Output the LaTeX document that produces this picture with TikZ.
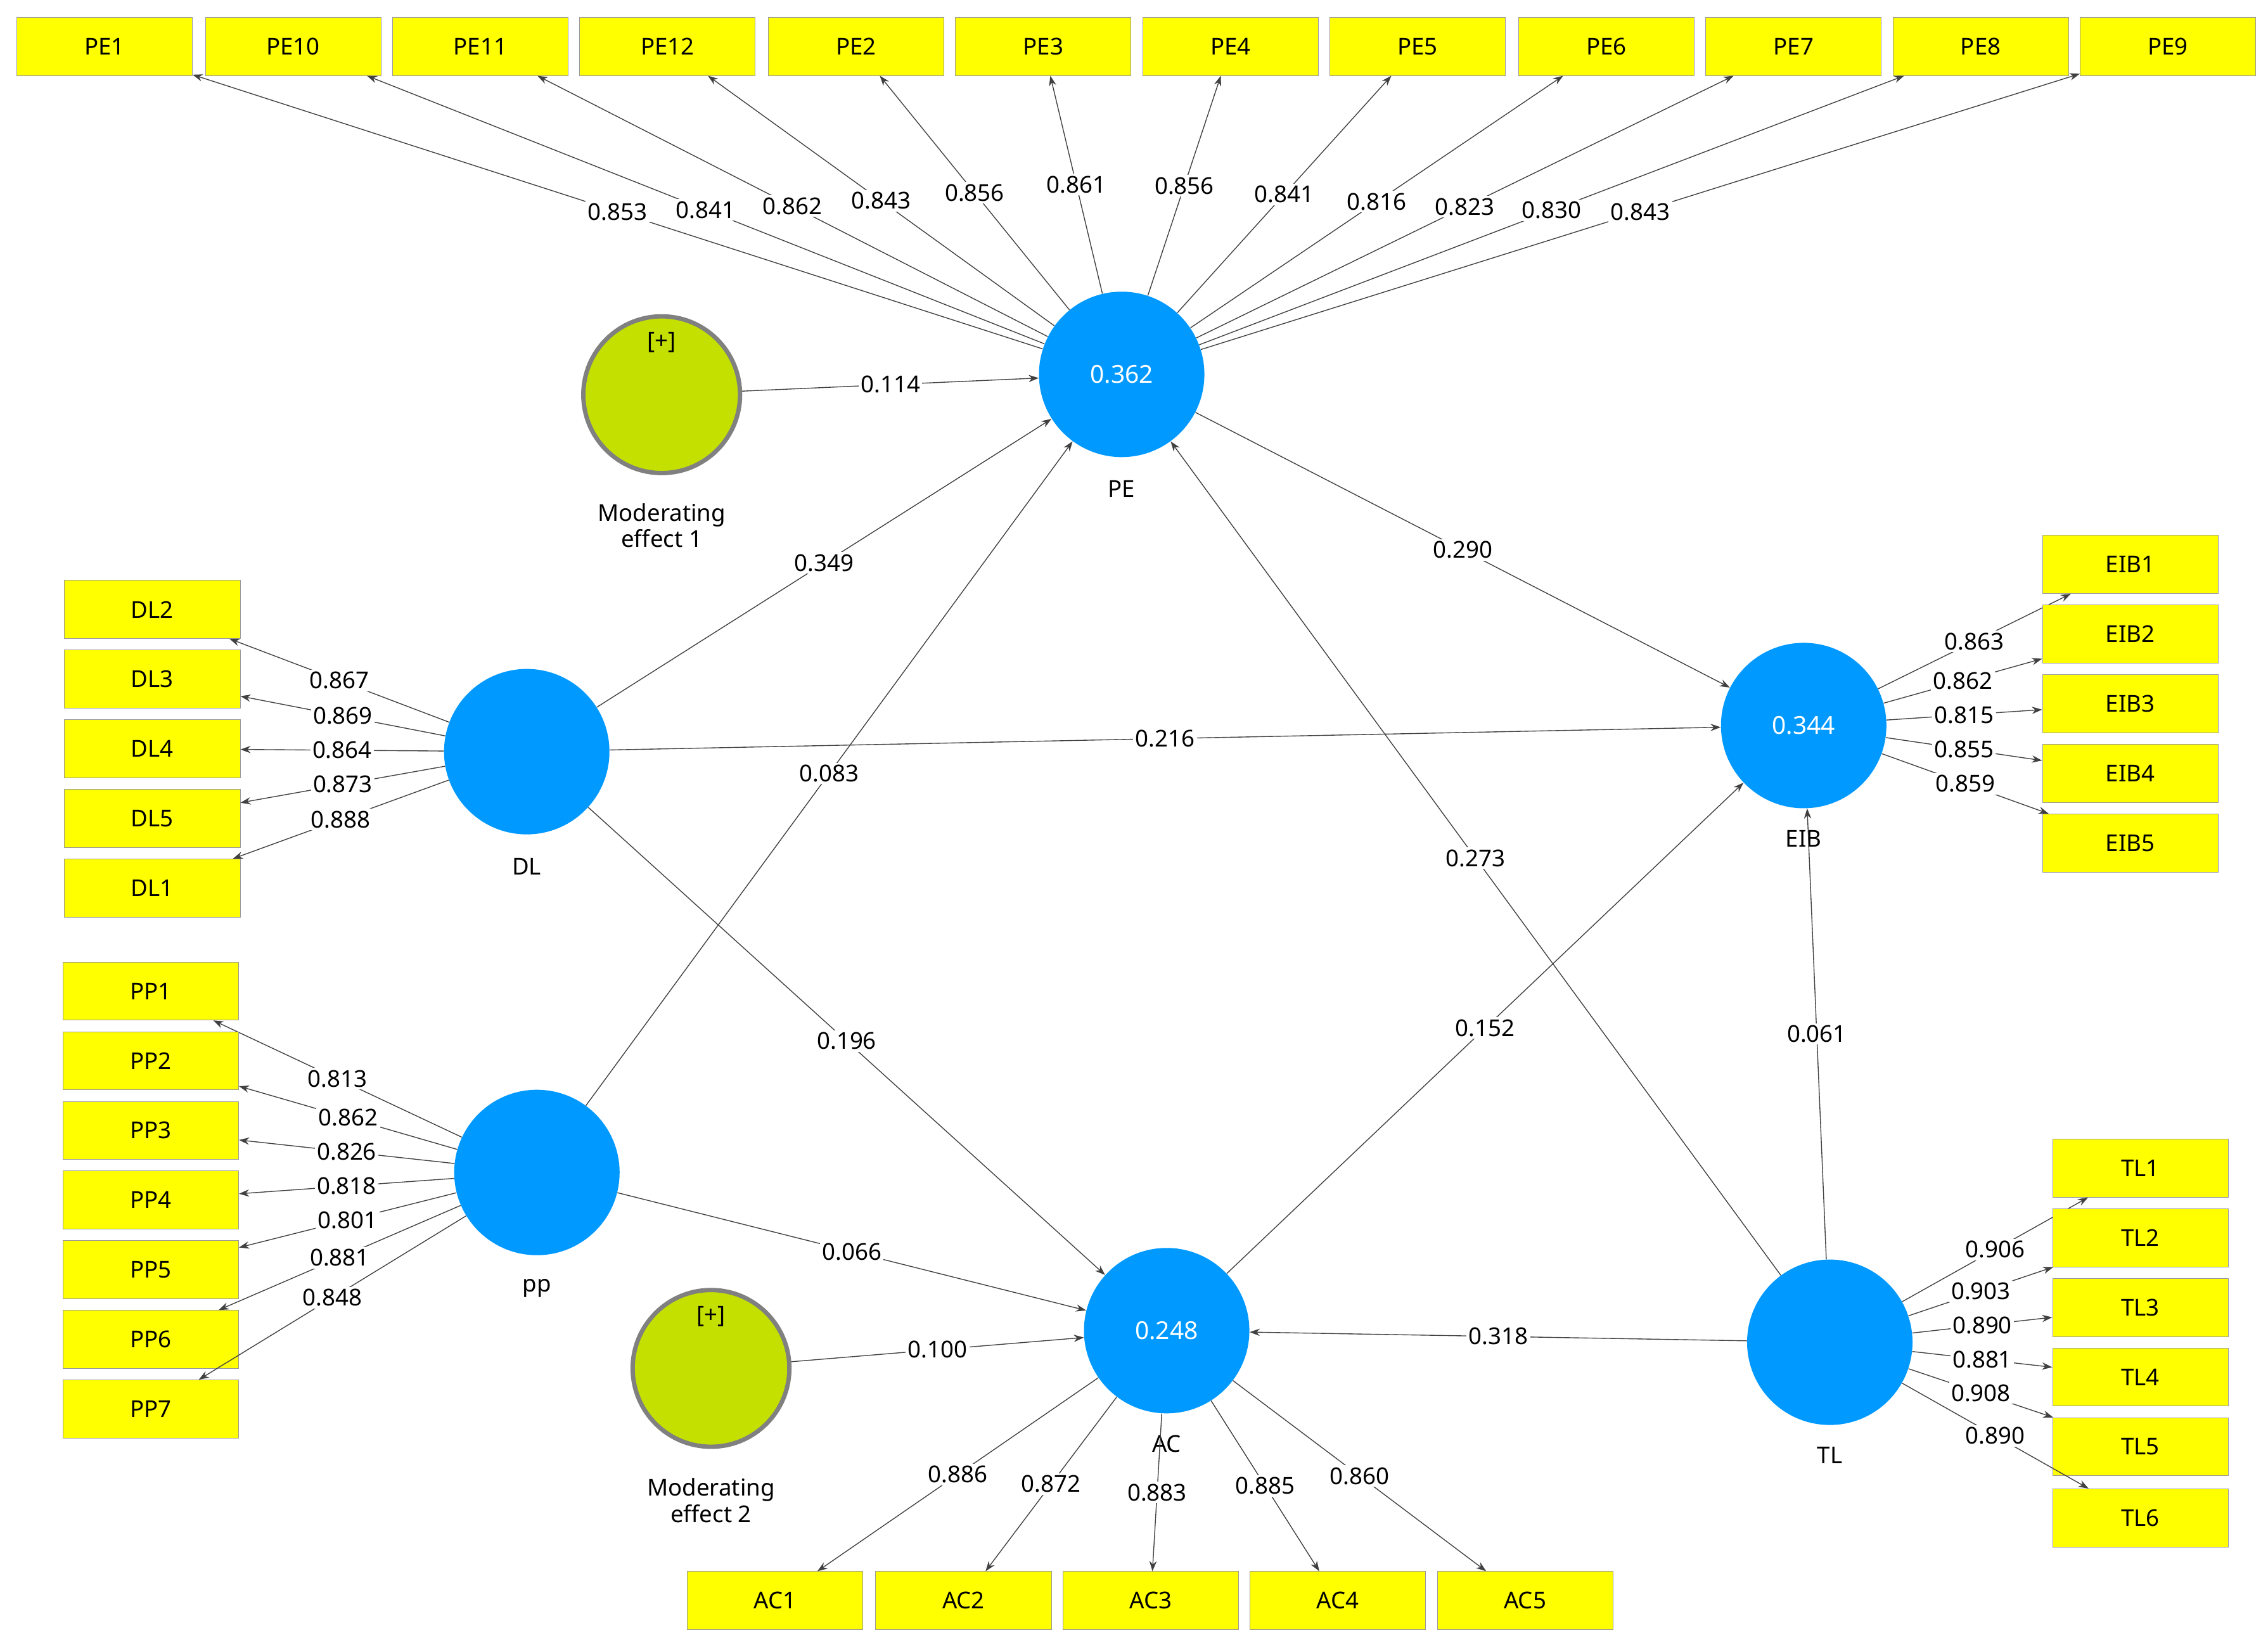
\documentclass[tikz,border=0pt]{standalone}
\usepackage{fontspec}
\setmainfont{Noto Sans}
\usetikzlibrary{arrows.meta}
\definecolor{lvblue}{RGB}{0,153,255}
\definecolor{boxyel}{RGB}{255,255,0}
\definecolor{modfill}{RGB}{196,224,0}
\begin{document}
\begin{tikzpicture}[x=1pt,y=-1pt,
  ind/.style={draw=black!40,fill=boxyel,minimum width=121pt,minimum height=40pt,inner sep=0pt,font=\fontsize{16}{18}\selectfont},
  lv/.style={circle,fill=lvblue,minimum size=114pt,inner sep=0pt,text=white,font=\fontsize{17}{19}\selectfont},
  mod/.style={circle,fill=modfill,draw=black!50,line width=3pt,minimum size=108pt,inner sep=0pt},
  lab/.style={font=\fontsize{16}{18}\selectfont},
  pth/.style={draw=black!75,line width=0.6pt,-{Stealth[length=7pt,width=5pt]}},
  val/.style={fill=white,inner sep=1.5pt,font=\fontsize{16}{18}\selectfont,pos=0.5}]
\useasboundingbox[fill=white] (0,0) rectangle (1563,1135);
% latent variables
\node[lv] (PE) at (773,258) {0.362};
\node[lv] (DL) at (363,518) {};
\node[lv] (pp) at (370,808) {};
\node[lv] (AC) at (804,917) {0.248};
\node[lv] (TL) at (1261,925) {};
\node[lv] (EIB) at (1243,500) {0.344};
\node[mod] (M1) at (456,272) {};
\node[mod] (M2) at (490,943) {};
\node[lab] (M1p) at (456,236) {[+]};
\node[lab] (M2p) at (490,907) {[+]};
\node[lab,align=center] (M1l) at (456,362) {Moderating\\effect 1};
\node[lab,align=center] (M2l) at (490,1034) {Moderating\\effect 2};
\node[lab] (PEl) at (773,337) {PE};
\node[lab] (DLl) at (363,597) {DL};
\node[lab] (ppl) at (370,888) {pp};
\node[lab] (ACl) at (804,995) {AC};
\node[lab] (TLl) at (1261,1003) {TL};
\node[lab] (EIBl) at (1243,578) {EIB};
% PE indicators
\foreach \n/\x/\v in {PE1/72/0.853,PE10/202/0.841,PE11/331/0.862,PE12/460/0.843,PE2/590/0.856,PE3/719/0.861,PE4/848/0.856,PE5/977/0.841,PE6/1107/0.816,PE7/1236/0.823,PE8/1365/0.830,PE9/1494/0.843}{
  \node[ind] (\n) at (\x,32) {\n};
  \draw[pth] (PE) -- node[val]{\v} (\n);}
\foreach \n/\y/\v in {DL2/420/0.867,DL3/468/0.869,DL4/516/0.864,DL5/564/0.873,DL1/612/0.888}{
  \node[ind] (\n) at (105,\y) {\n};
  \draw[pth] (DL) -- node[val]{\v} (\n);}
\foreach \n/\y/\v in {PP1/683/0.813,PP2/731/0.862,PP3/779/0.826,PP4/827/0.818,PP5/875/0.801,PP6/923/0.881,PP7/971/0.848}{
  \node[ind] (\n) at (104,\y) {\n};
  \draw[pth] (pp) -- node[val]{\v} (\n);}
\foreach \n/\x/\v in {AC1/534/0.886,AC2/664/0.872,AC3/793/0.883,AC4/922/0.885,AC5/1051/0.860}{
  \node[ind] (\n) at (\x,1103) {\n};
  \draw[pth] (AC) -- node[val]{\v} (\n);}
\foreach \n/\y/\v in {TL1/805/0.906,TL2/853/0.903,TL3/901/0.890,TL4/949/0.881,TL5/997/0.908,TL6/1046/0.890}{
  \node[ind] (\n) at (1475,\y) {\n};
  \draw[pth] (TL) -- node[val]{\v} (\n);}
\foreach \n/\y/\v in {EIB1/389/0.863,EIB2/437/0.862,EIB3/485/0.815,EIB4/533/0.855,EIB5/581/0.859}{
  \node[ind] (\n) at (1468,\y) {\n};
  \draw[pth] (EIB) -- node[val]{\v} (\n);}
% structural paths
\draw[pth] (M1) -- node[val]{0.114} (PE);
\draw[pth] (DL) -- node[val]{0.349} (PE);
\draw[pth] (pp) -- node[val]{0.083} (PE);
\draw[pth] (PE) -- node[val]{0.290} (EIB);
\draw[pth] (DL) -- node[val]{0.216} (EIB);
\draw[pth] (DL) -- node[val]{0.196} (AC);
\draw[pth] (TL) -- node[val]{0.273} (PE);
\draw[pth] (AC) -- node[val]{0.152} (EIB);
\draw[pth] (TL) -- node[val]{0.061} (EIB);
\draw[pth] (pp) -- node[val]{0.066} (AC);
\draw[pth] (M2) -- node[val]{0.100} (AC);
\draw[pth] (TL) -- node[val]{0.318} (AC);
\end{tikzpicture}
\end{document}
